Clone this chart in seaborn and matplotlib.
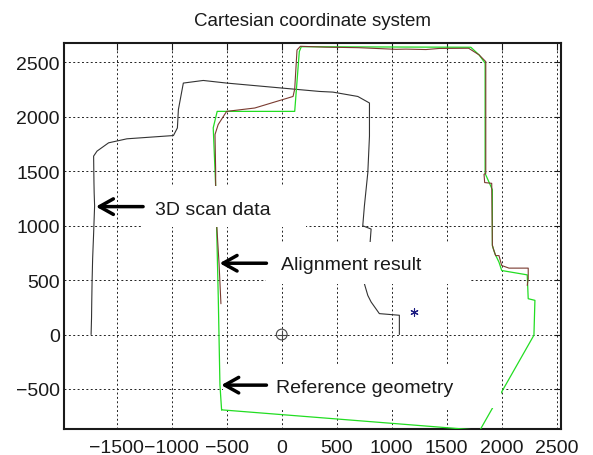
import matplotlib
matplotlib.use("Agg")
import matplotlib.pyplot as plt
import matplotlib.patches as mpatches
import numpy as np
import pandas as pd
import seaborn as sns

# data (data units)
scan_x = [-1734, -1730, -1728, -1725, -1720, -1716, -1712, -1702, -1706, -1708, -1711,
          -1680, -1575, -1408, -985, -949, -940, -895, -714, -501, 103, 345, 465,
          692, 798, 798, 783, 752, 737, 813, 804, 780, 752, 783, 813, 888, 1070, 1070]
scan_y = [0, 150, 300, 482, 695, 800, 900, 1182, 1300, 1400, 1639,
          1685, 1761, 1798, 1828, 1898, 2066, 2310, 2334, 2310, 2255, 2233, 2227,
          2187, 2127, 1822, 1487, 1182, 999, 969, 847, 650, 466, 359, 299, 192, 177, 0]

ref_x = [-547, -562, -577, -592, -601, -623, -587, 118, 160, 178, 1720, 1795, 1850,
         1850, 1916, 1916, 1940, 1976, 2001, 2233, 2242, 2303, 2294, 1802, -547]
ref_y = [-692, -463, 329, 984, 1365, 1899, 2050, 2050, 2600, 2644, 2639, 2569, 2493,
         1480, 1330, 816, 740, 665, 588, 548, 329, 314, -6, -880, -692]

aligned_x = [-553, -570, -590, -601, -601, -607, -578, -501, -245, 103, 118, 139, 170,
             400, 700, 1040, 1130, 1312, 1432, 1700, 1795, 1856, 1856, 1840, 1846,
             1910, 1916, 1925, 1946, 1976, 2001, 2067, 2242, 2242, 2233]
aligned_y = [283, 650, 984, 1365, 1502, 1837, 1929, 2050, 2081, 2187, 2255, 2614, 2648,
             2640, 2635, 2620, 2622, 2618, 2628, 2630, 2569, 2507, 1480, 1472, 1396,
             1389, 822, 786, 725, 725, 634, 610, 610, 512, 451]

origin_x, origin_y = [0], [0]
centre_x, centre_y = [1200], [207]

labels = ["3D scan data", "Alignment result", "Reference geometry"]
label_x = [-1151, -3, -54]
label_y = [1106, 603, -524]
arrow_tip_x = [-1690, -565, -550]
arrow_tip_y = [1175, 655, -465]
arrow_tail_x = [-1261, -139, -139]
# white boxes behind the labels (x0, y0, x1, y1)
boxes = [(-1265, 990, 220, 1360), (-140, 466, 1720, 850), (-530, -676, 1990, -283)]

sns.set_theme(style="white")
plt.rcParams["font.family"] = ["Liberation Sans", "DejaVu Sans"]

fig = plt.figure(figsize=(5.93, 4.56), dpi=100)
ax = fig.add_axes([0.108, 0.057, 0.838, 0.846])

sns.lineplot(x=scan_x, y=scan_y, sort=False, estimator=None, color="#333333",
             linewidth=0.8, ax=ax, zorder=3)
sns.lineplot(x=ref_x, y=ref_y, sort=False, estimator=None, color="#22dd22",
             linewidth=0.9, ax=ax, zorder=3)
sns.lineplot(x=aligned_x, y=aligned_y, sort=False, estimator=None, color="#7a3b30",
             linewidth=0.8, ax=ax, zorder=4)
sns.scatterplot(x=origin_x, y=origin_y, marker="o", s=60, facecolor="none",
                edgecolor="#444444", linewidth=0.8, ax=ax, zorder=5)
sns.scatterplot(x=origin_x, y=origin_y, marker="+", s=60, color="#444444",
                linewidth=0.8, ax=ax, zorder=5)
sns.scatterplot(x=centre_x, y=centre_y, marker=(6, 2, 0), s=28, color="#1a1a80",
                linewidth=0.8, ax=ax, zorder=5)

for (x0, y0, x1, y1) in boxes:
    ax.add_patch(mpatches.Rectangle((x0, y0), x1 - x0, y1 - y0, facecolor="white",
                                    edgecolor="none", zorder=6))

for lab, lx, ly, tx, ty, ax0 in zip(labels, label_x, label_y, arrow_tip_x, arrow_tip_y,
                                     arrow_tail_x):
    ax.text(lx, ly, lab, fontsize=14, va="baseline", ha="left", color="#1a1a1a", zorder=8)
    ax.annotate("", xy=(tx, ty), xytext=(ax0, ty),
                arrowprops=dict(arrowstyle="->, head_length=0.5, head_width=0.28",
                                mutation_scale=20, lw=2.5, color="black",
                                shrinkA=0, shrinkB=0), zorder=8)

ax.set_xlim(-1980, 2540)
ax.set_ylim(-868, 2676)
ax.set_xticks(np.arange(-1500, 2501, 500))
ax.set_yticks(np.arange(-500, 2501, 500))
ax.grid(True, color="#222222", linestyle=(0, (2, 2.5)), linewidth=0.7)
ax.set_axisbelow(True)
ax.tick_params(direction="in", top=True, right=True, length=5, width=0.8,
               labelsize=14, colors="#1a1a1a")
ax.tick_params(axis="x", pad=7)
ax.tick_params(axis="y", pad=3)
for sp in ax.spines.values():
    sp.set_visible(True)
    sp.set_color("#1a1a1a")
    sp.set_linewidth(1.5)
ax.set_title("Cartesian coordinate system", fontsize=13.5, pad=13, color="#1a1a1a")

fig.savefig("out.png", dpi=100)
